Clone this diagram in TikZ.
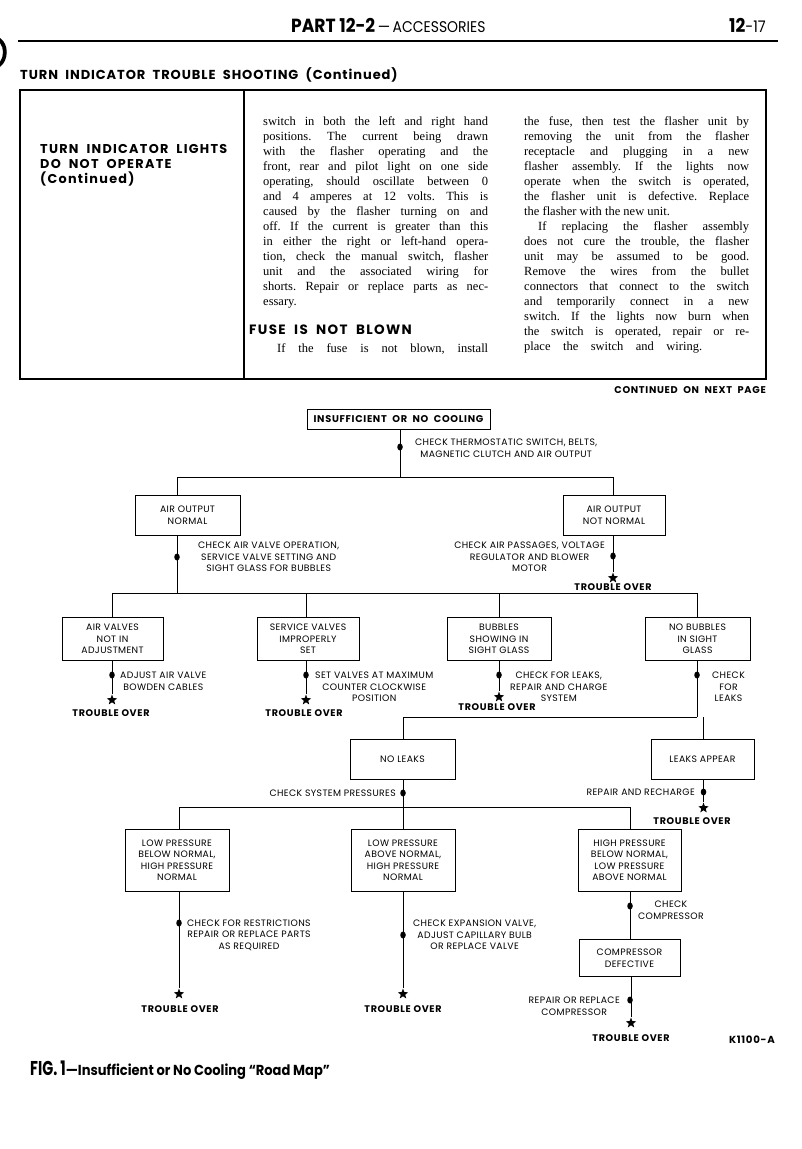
\documentclass[tikz,border=0pt]{standalone}
\usepackage{fontspec}
\setmainfont{Liberation Serif}
\newfontfamily\fut{Poppins}[LetterSpace=4]
\newfontfamily\futb{Poppins}[LetterSpace=7]
\newfontfamily\futbb{Poppins}[LetterSpace=10]
\newfontfamily\futc{Poppins}[FakeStretch=0.72]
\newfontfamily\futh{Poppins}[FakeStretch=0.9]
\usetikzlibrary{shapes.geometric}
\newlength\colw
\setlength\colw{225pt}
\newcommand\jl[1]{\makebox[\colw][s]{#1}}
\frenchspacing
\tikzset{
  box/.style={draw, line width=1pt, inner sep=0, align=center,
    font=\fut\fontsize{9.3}{11.5}\selectfont},
  lbl/.style={inner sep=0, align=center, font=\fut\fontsize{9.3}{11.5}\selectfont},
  tover/.style={inner sep=0, font=\futb\bfseries\fontsize{9.6}{10}\selectfont},
  dot/.style={ellipse, fill, inner sep=0, minimum width=5.5pt, minimum height=7pt},
  starn/.style={star, star points=5, star point ratio=2.4, fill, inner sep=0, minimum size=11pt},
  wire/.style={line width=0.9pt},
  body/.style={inner sep=0, align=left, font=\fontsize{12.5}{15}\selectfont},
}
\begin{document}
\begin{tikzpicture}[x=1pt,y=-1pt]
\useasboundingbox (0,0) rectangle (801,1149);
\fill[white] (0,0) rectangle (801,1149);
% binding mark
\fill (0,38) .. controls (9,44) and (9,60) .. (0,67) -- (0,62) .. controls (4,56) and (4,48) .. (0,43) -- cycle;
% header
\node[inner sep=0, anchor=base west] (hdr) at (291,32)
  {{\futh\bfseries\fontsize{19}{19}\selectfont PART 12-2}{\futh\fontsize{15.5}{15}\selectfont\,—\,ACCESSORIES}};
\node[inner sep=0, anchor=base east] (pg) at (766,32)
  {{\futh\bfseries\fontsize{19}{19}\selectfont 12}{\futh\fontsize{16}{16}\selectfont -17}};
\draw[line width=2pt] (18,41) -- (778,41);
\node[inner sep=0, anchor=base west] (sec) at (20,79)
  {\futb\bfseries\fontsize{13}{14}\selectfont TURN\ \ INDICATOR\ \ TROUBLE\ \ SHOOTING\ \ (Continued)};
% table
\draw[line width=1.4pt] (20,90) rectangle (766,379);
\draw[line width=1.2pt] (244,90) -- (244,379);
\node[inner sep=0, anchor=north west, align=left, font=\futbb\bfseries\fontsize{12.8}{15}\selectfont] (lh) at (40,144)
  {TURN\ \ INDICATOR\ \ LIGHTS\\DO\ \ NOT\ \ OPERATE\\(Continued)};
\node[body, anchor=north west] (col1) at (263,116) {%
\jl{switch in both the left and right hand}\\
\jl{positions. The current being drawn}\\
\jl{with the flasher operating and the}\\
\jl{front, rear and pilot light on one side}\\
\jl{operating, should oscillate between 0}\\
\jl{and 4 amperes at 12 volts. This is}\\
\jl{caused by the flasher turning on and}\\
\jl{off. If the current is greater than this}\\
\jl{in either the right or left-hand opera-}\\
\jl{tion, check the manual switch, flasher}\\
\jl{unit and the associated wiring for}\\
\jl{shorts. Repair or replace parts as nec-}\\
essary.};
\node[inner sep=0, anchor=base west, font=\futbb\bfseries\fontsize{13.5}{14}\selectfont] (fuse) at (249,334)
  {FUSE\ \ IS\ \ NOT\ \ BLOWN};
\node[body, anchor=base west] (col1b) at (263,352) {\jl{\hspace{14pt}If the fuse is not blown, install}};
\node[body, anchor=north west] (col2) at (524,116) {%
\jl{the fuse, then test the flasher unit by}\\
\jl{removing the unit from the flasher}\\
\jl{receptacle and plugging in a new}\\
\jl{flasher assembly. If the lights now}\\
\jl{operate when the switch is operated,}\\
\jl{the flasher unit is defective. Replace}\\
the flasher with the new unit.\\
\jl{\hspace{14pt}If replacing the flasher assembly}\\
\jl{does not cure the trouble, the flasher}\\
\jl{unit may be assumed to be good.}\\
\jl{Remove the wires from the bullet}\\
\jl{connectors that connect to the switch}\\
\jl{and temporarily connect in a new}\\
\jl{switch. If the lights now burn when}\\
\jl{the switch is operated, repair or re-}\\
\makebox[178pt][s]{place the switch and wiring.}};
\node[inner sep=0, anchor=base east, font=\futb\bfseries\fontsize{9.8}{10}\selectfont] (cont) at (766,393)
  {CONTINUED\ \ ON\ \ NEXT\ \ PAGE};
% ---------- flow chart boxes
\node[box, font=\futb\bfseries\fontsize{9.8}{10}\selectfont, minimum width=183pt, minimum height=20pt] (top) at (398.5,419) {INSUFFICIENT\ \ OR\ \ NO\ \ COOLING};
\node[box, minimum width=105pt, minimum height=40pt] (aon) at (187.5,515) {AIR OUTPUT\\NORMAL};
\node[box, minimum width=102pt, minimum height=40pt] (ann) at (614,515) {AIR OUTPUT\\NOT NORMAL};
\node[box, minimum width=101pt, minimum height=43pt] (b1) at (112.5,639) {AIR VALVES\\NOT IN\\ADJUSTMENT};
\node[box, minimum width=102pt, minimum height=43pt] (b2) at (308,639) {SERVICE VALVES\\IMPROPERLY\\SET};
\node[box, minimum width=104pt, minimum height=43pt] (b3) at (499,639) {BUBBLES\\SHOWING IN\\SIGHT GLASS};
\node[box, minimum width=105pt, minimum height=43pt] (b4) at (697.5,639) {NO BUBBLES\\IN SIGHT\\GLASS};
\node[box, minimum width=105pt, minimum height=40pt] (nl) at (402.5,759) {NO LEAKS};
\node[box, minimum width=103pt, minimum height=40pt] (la) at (702.5,759) {LEAKS APPEAR};
\node[box, minimum width=104pt, minimum height=62pt] (c1) at (177,860) {LOW PRESSURE\\BELOW NORMAL,\\HIGH PRESSURE\\NORMAL};
\node[box, minimum width=104pt, minimum height=62pt] (c2) at (403,860) {LOW PRESSURE\\ABOVE NORMAL,\\HIGH PRESSURE\\NORMAL};
\node[box, minimum width=103pt, minimum height=62pt] (c3) at (629.5,860) {HIGH PRESSURE\\BELOW NORMAL,\\LOW PRESSURE\\ABOVE NORMAL};
\node[box, minimum width=101pt, minimum height=37pt] (cd) at (629.5,958) {COMPRESSOR\\DEFECTIVE};
% ---------- junction coordinates
\coordinate (v0) at (400,477);
\coordinate (h1a) at (177,477);
\coordinate (h1b) at (613,477);
\coordinate (h2a) at (112,593);
\coordinate (h2b) at (306,593);
\coordinate (h2c) at (499,593);
\coordinate (h2d) at (697,593);
\coordinate (h2s) at (177,593);
\coordinate (h3a) at (403,717);
\coordinate (h3b) at (697,717);
\coordinate (h4a) at (179,807);
\coordinate (h4b) at (403,807);
\coordinate (h4c) at (630,807);
\coordinate (xla) at (703.5,0);
% stars
\node[starn] (s1) at (613,578) {};
\node[starn] (s2) at (112,700) {};
\node[starn] (s3) at (306,700) {};
\node[starn] (s4) at (499,697) {};
\node[starn] (s5) at (703.5,808) {};
\node[starn] (s6) at (179,994) {};
\node[starn] (s7) at (403,994) {};
\node[starn] (s8) at (631,1023) {};
% ---------- wires
\draw[wire] (v0 |- top.south) -- (v0);
\draw[wire] (h1a) -- (h1b);
\draw[wire] (h1a) -- (h1a |- aon.north);
\draw[wire] (h1b) -- (h1b |- ann.north);
\draw[wire] (h2s |- aon.south) -- (h2s);
\draw[wire] (h2a) -- (h2d);
\draw[wire] (h2a) -- (h2a |- b1.north);
\draw[wire] (h2b) -- (h2b |- b2.north);
\draw[wire] (h2c) -- (h2c |- b3.north);
\draw[wire] (h2d) -- (h2d |- b4.north);
\draw[wire] (s1 |- ann.south) -- (s1);
\draw[wire] (s2 |- b1.south) -- (s2);
\draw[wire] (s3 |- b2.south) -- (s3);
\draw[wire] (s4 |- b3.south) -- (s4);
\draw[wire] (h3b |- b4.south) -- (h3b);
\draw[wire] (h3a) -- (h3b);
\draw[wire] (h3a) -- (h3a |- nl.north);
\draw[wire] (xla |- h3b) -- (xla |- la.north);
\draw[wire] (h4b |- nl.south) -- (h4b);
\draw[wire] (s5 |- la.south) -- (s5);
\draw[wire] (h4a) -- (h4c);
\draw[wire] (h4a) -- (h4a |- c1.north);
\draw[wire] (h4b) -- (h4b |- c2.north);
\draw[wire] (h4c) -- (h4c |- c3.north);
\draw[wire] (s6 |- c1.south) -- (s6);
\draw[wire] (s7 |- c2.south) -- (s7);
\draw[wire] (h4c |- c3.south) -- (h4c |- cd.north);
\draw[wire] (s8 |- cd.south) -- (s8);
% dots
\node[dot] (d0) at (400,447) {};
\node[dot] (d1) at (177,557) {};
\node[dot] (d2) at (613,556) {};
\node[dot] (d3) at (112,675) {};
\node[dot] (d4) at (306,675) {};
\node[dot] (d5) at (499,675) {};
\node[dot] (d6) at (697,675) {};
\node[dot] (d7) at (403,793) {};
\node[dot] (d8) at (703.5,792) {};
\node[dot] (d9) at (179,923) {};
\node[dot] (d10) at (403,935) {};
\node[dot] (d11) at (630,906) {};
\node[dot] (d12) at (630,1000) {};
% labels
\node[lbl, anchor=west] (t0) at (415,448) {CHECK THERMOSTATIC SWITCH, BELTS,\\MAGNETIC CLUTCH AND AIR OUTPUT};
\node[lbl, anchor=west] (t1) at (198,557) {CHECK AIR VALVE OPERATION,\\SERVICE VALVE SETTING AND\\SIGHT GLASS FOR BUBBLES};
\node[lbl, anchor=east] (t2) at (605,557) {CHECK AIR PASSAGES, VOLTAGE\\REGULATOR AND BLOWER\\MOTOR};
\node[tover] (o1) at (613,587) {TROUBLE\ OVER};
\node[lbl, anchor=west] (t3) at (120,681) {ADJUST AIR VALVE\\BOWDEN CABLES};
\node[tover] (o2) at (111,713) {TROUBLE\ OVER};
\node[lbl, anchor=west] (t4) at (315,687) {SET VALVES AT MAXIMUM\\COUNTER CLOCKWISE\\POSITION};
\node[tover] (o3) at (304,713) {TROUBLE\ OVER};
\node[lbl, anchor=west] (t5) at (510,687) {CHECK FOR LEAKS,\\REPAIR AND CHARGE\\SYSTEM};
\node[tover] (o4) at (497,707) {TROUBLE\ OVER};
\node[lbl, anchor=west] (t6) at (712,687) {CHECK\\FOR\\LEAKS};
\node[lbl, anchor=east] (t7) at (396,793) {CHECK SYSTEM PRESSURES};
\node[lbl, anchor=east] (t8) at (695,792) {REPAIR AND RECHARGE};
\node[tover] (o5) at (692,821) {TROUBLE\ OVER};
\node[lbl, anchor=west] (t9) at (187,935) {CHECK FOR RESTRICTIONS\\REPAIR OR REPLACE PARTS\\AS REQUIRED};
\node[tover] (o6) at (180,1009) {TROUBLE\ OVER};
\node[lbl, anchor=west] (t10) at (413,935) {CHECK EXPANSION VALVE,\\ADJUST CAPILLARY BULB\\OR REPLACE VALVE};
\node[tover] (o7) at (403,1009) {TROUBLE\ OVER};
\node[lbl, anchor=west] (t11) at (638,910) {CHECK\\COMPRESSOR};
\node[lbl, anchor=east] (t12) at (620,1006) {REPAIR OR REPLACE\\COMPRESSOR};
\node[tover] (o8) at (631,1038) {TROUBLE\ OVER};
\node[tover, anchor=east, font=\futb\bfseries\fontsize{10.2}{10}\selectfont] (kid) at (775,1040) {K1100-A};
% caption
\node[inner sep=0, anchor=base west] (cap) at (30,1075)
  {{\futc\bfseries\fontsize{20}{20}\selectfont FIG. 1}{\futh\bfseries\fontsize{14.5}{14}\selectfont —Insufficient or No Cooling “Road Map”}};
\end{tikzpicture}
\end{document}
